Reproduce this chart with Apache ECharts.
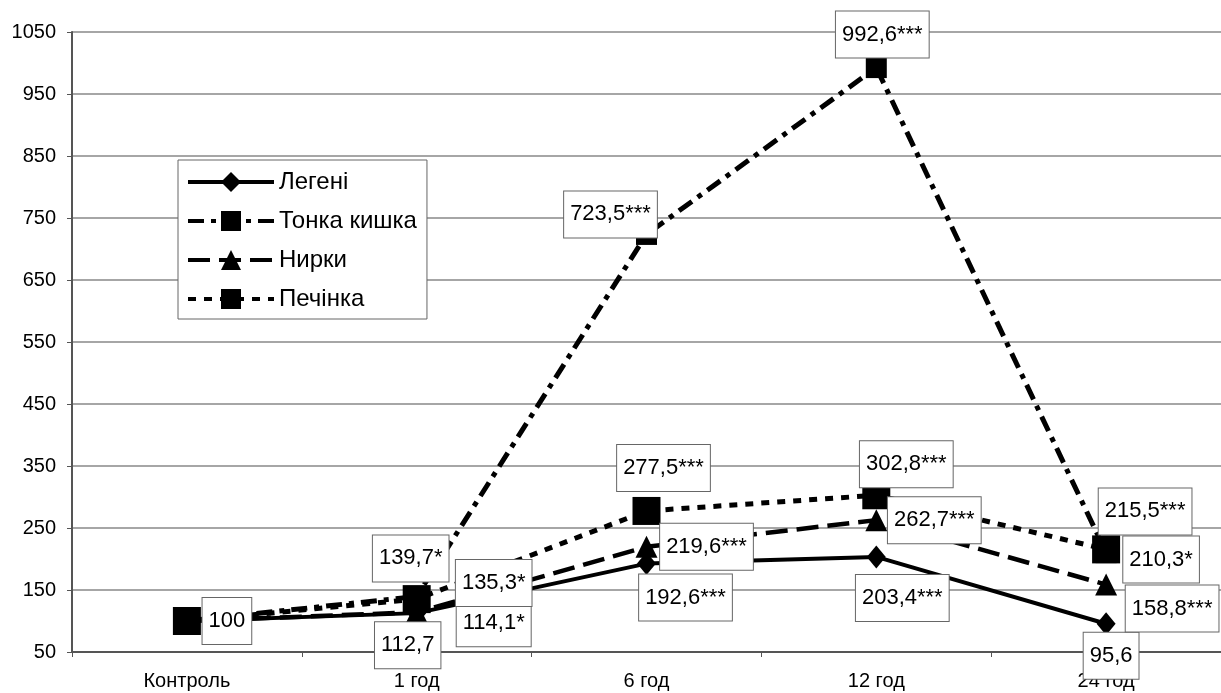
<!DOCTYPE html>
<html>
<head>
<meta charset="utf-8">
<script src="https://cdn.jsdelivr.net/npm/echarts@6/dist/echarts.min.js"></script>
<style>html,body{margin:0;padding:0;background:#fff}#c{width:1221px;height:693px}</style>
</head>
<body>
<div id="c"></div>
<script>
// ---- data ----
const categories = ['Контроль', '1 год', '6 год', '12 год', '24 год'];
const seriesNames = ['Легені', 'Тонка кишка', 'Нирки', 'Печінка'];
const lungs = [100, 112.7, 192.6, 203.4, 95.6];
const intestine = [100, 139.7, 723.5, 992.6, 210.3];
const kidneys = [100, 114.1, 219.6, 262.7, 158.8];
const liver = [100, 135.3, 277.5, 302.8, 215.5];
// significance marks (null = no label)
const lungsSig = ['', '', '***', '***', ''];
const intestineSig = [null, '*', '***', '***', '*'];
const kidneysSig = [null, '*', '***', '***', '***'];
const liverSig = [null, '*', '***', '***', '***'];
const yMin = 50, yMax = 1050, yStep = 100;

// ---- layout (label box offsets from their points, px) ----
const labelOffsets = [
  [[40, 0], [-9, 32], [39, 34], [26, 41], [5, 32]],
  [[0, 0], [-6, -38], [-36, -20], [6, -33], [55, 7]],
  [[0, 0], [77, 11], [60, 0], [58, 0], [66, 24]],
  [[0, 0], [77, -16], [17, -43], [30, -31], [39, -38]]
];

const values = [lungs, intestine, kidneys, liver];
const sigs = [lungsSig, intestineSig, kidneysSig, liverSig];
const font = 'Liberation Sans, Arial, sans-serif';

const lineStyles = [
  { lineStyle: { width: 4, type: 'solid' }, symbol: 'diamond', symbolSize: [19, 23] },
  { lineStyle: { width: 5, type: [16, 7, 5, 7] }, symbol: 'rect', symbolSize: 21 },
  { lineStyle: { width: 4.5, type: [22, 9] }, symbol: 'triangle', symbolSize: 22 },
  { lineStyle: { width: 5, type: [8, 8] }, symbol: 'rect', symbolSize: 28 }
];

const fmt = v => String(v).replace('.', ',');

const series = [];
seriesNames.forEach((name, i) => {
  const st = lineStyles[i];
  series.push({
    name: name,
    type: 'line',
    data: values[i],
    symbol: st.symbol,
    symbolSize: st.symbolSize,
    showAllSymbol: true,
    itemStyle: { color: '#000', opacity: 1 },
    lineStyle: Object.assign({ color: '#000' }, st.lineStyle),
    z: 2 + i,
    label: { show: false },
    emphasis: { disabled: true }
  });
});
seriesNames.forEach((name, i) => {
  series.push({
    name: name + '_labels',
    type: 'scatter',
    silent: true,
    z: 20,
    symbolSize: 1,
    itemStyle: { color: 'rgba(0,0,0,0)', opacity: 1 },
    data: values[i].map((v, j) => ({
      value: v,
      label: {
        show: sigs[i][j] !== null,
        offset: labelOffsets[i][j],
        formatter: fmt(v) + (sigs[i][j] || '')
      }
    })),
    label: {
      position: 'inside',
      opacity: 1,
      fontSize: 22,
      lineHeight: 24,
      fontFamily: font,
      color: '#000',
      backgroundColor: '#fff',
      borderColor: '#666',
      borderWidth: 1,
      padding: [11, 6]
    },
    emphasis: { disabled: true }
  });
});

const chart = echarts.init(document.getElementById('c'), null, { renderer: 'canvas' });
chart.setOption({
  animation: false,
  backgroundColor: '#fff',
  grid: { left: 72, top: 32, width: 1155, height: 620 },
  legend: {
    data: seriesNames,
    orient: 'vertical',
    left: 178,
    top: 160,
    padding: [10, 10, 8, 8],
    itemWidth: 86,
    itemHeight: 25,
    itemGap: 15,
    backgroundColor: '#fff',
    borderColor: '#666',
    borderWidth: 1,
    borderRadius: 0,
    lineStyle: { width: 4 },
    textStyle: { fontSize: 24, fontFamily: font, color: '#000' },
    selectedMode: false
  },
  xAxis: {
    type: 'category',
    data: categories,
    boundaryGap: true,
    axisLine: { lineStyle: { color: '#555', width: 2 } },
    axisTick: { show: true, length: 5, lineStyle: { color: '#555', width: 1 } },
    axisLabel: { fontSize: 20, fontFamily: font, color: '#000', margin: 19 },
    splitLine: { show: false }
  },
  yAxis: {
    type: 'value',
    min: yMin,
    max: yMax,
    interval: yStep,
    axisLine: { show: true, lineStyle: { color: '#555', width: 2 } },
    axisTick: { show: true, length: 5, lineStyle: { color: '#555', width: 1 } },
    axisLabel: { fontSize: 20, fontFamily: font, color: '#000', margin: 16, formatter: v => String(v) },
    splitLine: { show: true, lineStyle: { color: '#888', width: 1.5 } }
  },
  series: series
});
</script>
</body>
</html>
